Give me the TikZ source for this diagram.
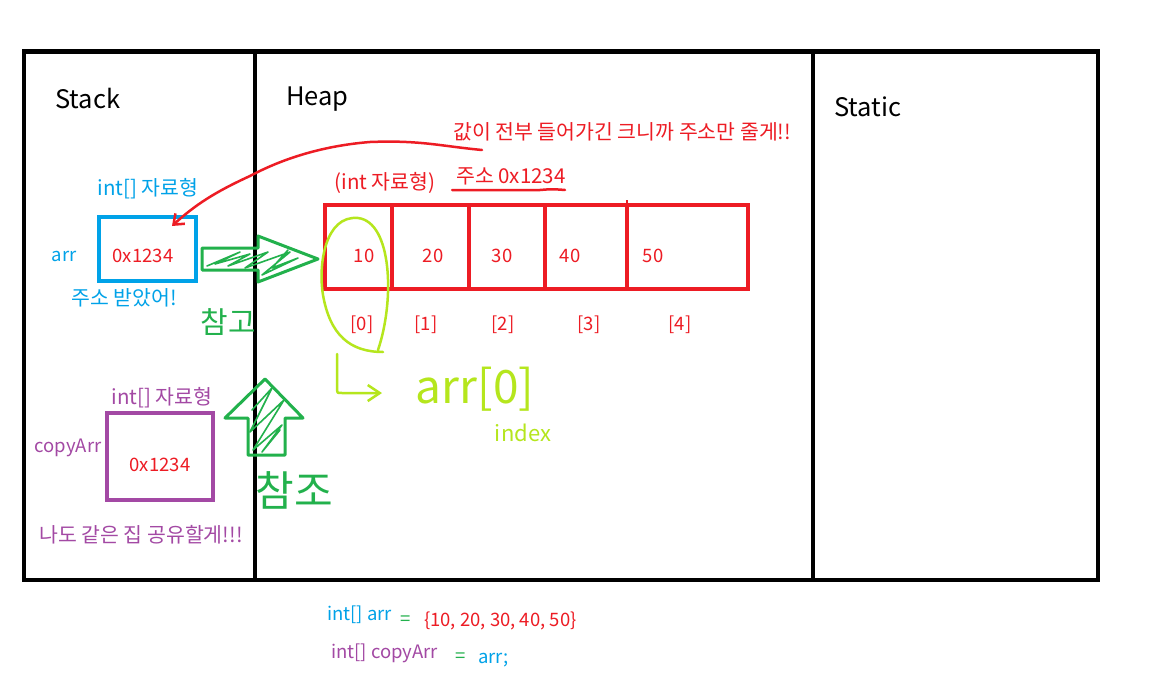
\documentclass[tikz,border=0pt]{standalone}
\usepackage{fontspec}
\setmainfont{Noto Sans CJK KR}
\usetikzlibrary{arrows.meta}
\definecolor{cblue}{HTML}{00A2E8}
\definecolor{cred}{HTML}{ED1C24}
\definecolor{cpurple}{HTML}{A349A4}
\definecolor{cgreen}{HTML}{22B14C}
\definecolor{clime}{HTML}{B5E61D}
\tikzset{
  lbl/.style={inner sep=0pt, font=\fontsize{18.5}{18.5}\selectfont},
  lblk/.style={inner sep=0pt, font=\fontsize{20.5}{20.5}\selectfont},
  big/.style={inner sep=0pt, font=\fontsize{25.5}{25.5}\selectfont},
  cell/.style={draw=cred, line width=4pt, minimum height=84pt, inner sep=0pt},
  hand/.style={line width=3pt, line cap=round, line join=round},
  scrib/.style={line width=1.6pt, line cap=round, line join=round},
}
\begin{document}
\begin{tikzpicture}[x=1pt,y=-1pt]
\useasboundingbox (0,0) rectangle (1169,698);
\fill[white] (0,0) rectangle (1169,698);
% frame
\draw[line width=4.5pt] (24,51.5) rectangle (1098,580);
\draw[line width=4.5pt] (255,51.5) -- (255,580);
\draw[line width=4.5pt] (813,51.5) -- (813,580);
\node[big, anchor=west] (stack) at (55,99) {Stack};
\node[big, anchor=west] (heap) at (286,99) {Heap};
\node[big, anchor=west] (static) at (834,107) {Static};

% stack: arr
\node[draw=cblue, line width=4pt, minimum width=97pt, minimum height=64pt, inner sep=0pt] (arrbox) at (147.5,249) {};
\node[lbl, text=cred] (arrval) at (143,256) {0x1234};
\node[lbl, text=cblue] (arrname) at (64,256) {arr};
\node[lblk, text=cblue] (arrtype) at (148,189) {int[] 자료형};
\node[lblk, text=cblue] (arrnote) at (124,298) {주소 받았어!};

% stack: copyArr
\node[draw=cpurple, line width=4pt, minimum width=106pt, minimum height=87pt, inner sep=0pt] (cpbox) at (160,456.5) {};
\node[lbl, text=cred] (cpval) at (160,465) {0x1234};
\node[lbl, text=cpurple] (cpname) at (68,448) {copyArr};
\node[lblk, text=cpurple] (cptype) at (162,398) {int[] 자료형};
\node[lblk, text=cpurple] (cpnote) at (141,535) {나도 같은 집 공유할게!!!};

% heap array
\node[cell, minimum width=67pt] (c0) at (358.5,247) {};
\node[cell, minimum width=77pt] (c1) at (430.5,247) {};
\node[cell, minimum width=76pt] (c2) at (507,247) {};
\node[cell, minimum width=82pt] (c3) at (586,247) {};
\node[cell, minimum width=121pt] (c4) at (687.5,247) {};
\draw[cred, line width=2pt] (627,203) -- (627,200);
\node[lbl, text=cred] (v0) at (364,256) {10};
\node[lbl, text=cred] (v1) at (433,256) {20};
\node[lbl, text=cred] (v2) at (502,256) {30};
\node[lbl, text=cred] (v3) at (570,256) {40};
\node[lbl, text=cred] (v4) at (653,256) {50};
\node[lbl, text=cred] (i0) at (362,325) {[0]};
\node[lbl, text=cred] (i1) at (426,325) {[1]};
\node[lbl, text=cred] (i2) at (503,325) {[2]};
\node[lbl, text=cred] (i3) at (589,325) {[3]};
\node[lbl, text=cred] (i4) at (680,325) {[4]};
\node[lblk, text=cred] (itype) at (385,183) {(int 자료형)};
\node[lblk, text=cred] (addr) at (511,176) {주소 0x1234};
\draw[cred, line width=2.5pt, line cap=round] (452,190) -- (540,190) .. controls (552,189) .. (565,190);

% red note and arrow
\node[lblk, text=cred, anchor=west] (note) at (453,132) {값이 전부 들어가긴 크니까 주소만 줄게!!};
\coordinate (cstart) at (482,150);
\coordinate (ctip) at (172,226);
\draw[cred, line width=2.5pt, line cap=round, -{Straight Barb[length=9pt,width=14pt]}]
  (cstart) .. controls (440,146) and (420,140) .. (370,142)
  .. controls (320,146) and (280,160) .. (250,176)
  .. controls (215,192) and (195,205) .. (ctip);

% green right arrow (reference)
\draw[cgreen, hand] (202,248) -- (258,248) -- (258,236) -- (318,259) -- (258,282) -- (258,270) -- (202,270) -- cycle;
\draw[cgreen, scrib] (207,266) -- (240,252) -- (215,264) -- (250,254) -- (228,266) -- (268,252) -- (245,268) -- (290,252)
  -- (262,275) -- (298,258) -- (272,268) -- (288,250);
\node[text=cgreen, inner sep=0pt, font=\fontsize{30}{30}\selectfont] (cham1) at (228,322) {참고};

% green up arrow (reference)
\draw[cgreen, hand] (248,455) -- (248,418) -- (225,418) -- (265,379) -- (303,418) -- (285,418) -- (285,455) -- cycle;
\draw[cgreen, scrib] (252,410) -- (272,388) -- (250,432) -- (284,400) -- (253,450) -- (282,425) -- (262,452) -- (280,430);
\node[text=cgreen, inner sep=0pt, font=\fontsize{42}{42}\selectfont] (cham2) at (294,490) {참조};

% lime loop and hook arrow
\draw[clime, hand, line width=2.5pt] (378,350) .. controls (395,300) and (392,222) .. (358,218)
  .. controls (325,215) and (318,265) .. (323,295)
  .. controls (330,335) and (350,352) .. (383,352);
\coordinate (hooktip) at (382,393);
\draw[clime, hand, line width=2.5pt, -{Straight Barb[length=12pt,width=16pt]}] (337,354) -- (337,390) .. controls (337,393) .. (342,393) -- (hooktip);
\node[text=clime, inner sep=0pt, font=\fontsize{46}{46}\selectfont] (arr0) at (475,389) {arr[0]};
\node[text=clime, inner sep=0pt, font=\fontsize{22}{22}\selectfont] (idx) at (523,433) {index};

% code at bottom
\node[lbl, text=cblue, anchor=west] (k1) at (327,615) {int[] arr};
\node[lbl, text=cgreen] (e1) at (406,621) {=};
\node[lbl, text=cred, anchor=west] (r1) at (424,621) {\{10, 20, 30, 40, 50\}};
\node[lbl, text=cpurple, anchor=west] (k2) at (331,653) {int[] copyArr};
\node[lbl, text=cgreen] (e2) at (461,658) {=};
\node[lbl, text=cblue, anchor=west] (r2) at (478,660) {arr;};
\end{tikzpicture}
\end{document}
